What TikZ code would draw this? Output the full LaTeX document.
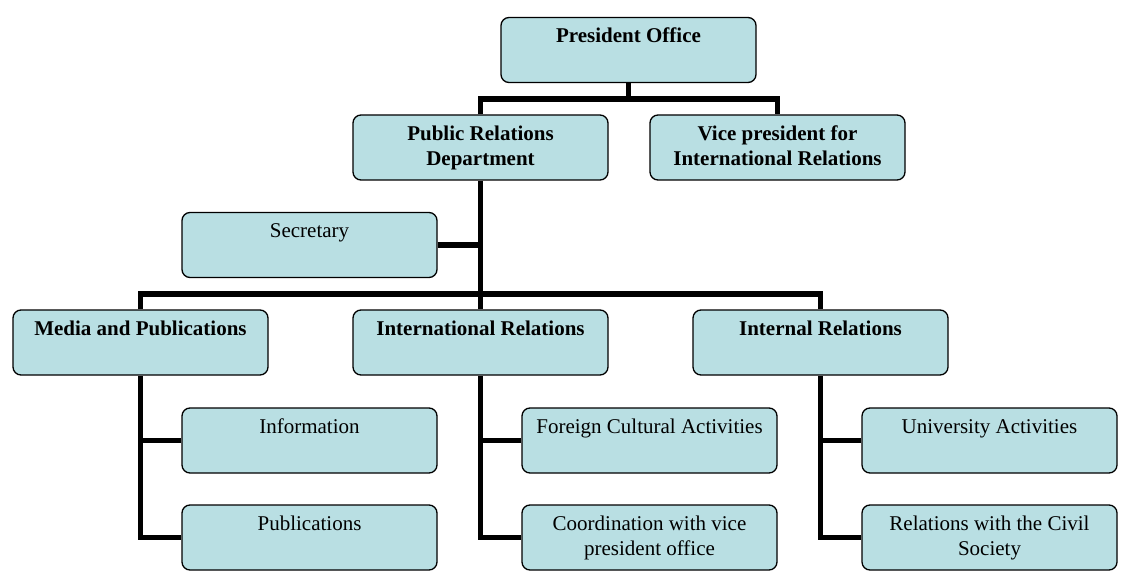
\documentclass[tikz,border=0pt]{standalone}
\usepackage{fontspec}
\setmainfont{Liberation Serif}
\definecolor{boxfill}{RGB}{185,223,227}
\tikzset{
  orgbox/.style={draw=black, line width=1.3pt, fill=boxfill, rounded corners=8pt,
    inner sep=8pt, minimum width=255pt, minimum height=65pt,
    font=\fontsize{21}{25}\selectfont},
  conn/.style={line width=5.5pt, draw=black}
}
\newcommand{\boxtext}[1]{\parbox[c][49pt][t]{239pt}{\centering\strut #1}}
\begin{document}
\begin{tikzpicture}[x=1pt,y=-1pt]
\useasboundingbox (0,0) rectangle (1121,585);
\node[orgbox] (pres) at (628.5,50) {\boxtext{\textbf{President Office}}};
\node[orgbox] (pr) at (480.5,147.5) {\boxtext{\textbf{Public Relations\\Department}}};
\node[orgbox] (vice) at (777.5,147.5) {\boxtext{\textbf{Vice president for\\International Relations}}};
\node[orgbox] (sec) at (309.5,245) {\boxtext{Secretary}};
\node[orgbox] (media) at (140.5,342.5) {\boxtext{\textbf{Media and Publications}}};
\node[orgbox] (intl) at (480.5,342.5) {\boxtext{\textbf{International Relations}}};
\node[orgbox] (internal) at (820.5,342.5) {\boxtext{\textbf{Internal Relations}}};
\node[orgbox] (info) at (309.5,440.5) {\boxtext{Information}};
\node[orgbox] (pub) at (309.5,537.5) {\boxtext{Publications}};
\node[orgbox] (foreign) at (649.5,440.5) {\boxtext{Foreign Cultural Activities}};
\node[orgbox] (coord) at (649.5,537.5) {\boxtext{Coordination with vice\\president office}};
\node[orgbox] (univ) at (989.5,440.5) {\boxtext{University Activities}};
\node[orgbox] (civil) at (989.5,537.5) {\boxtext{Relations with the Civil\\Society}};
\coordinate (j1) at (628.5,99);
\coordinate (j2) at (480.5,294);
\draw[conn] (pres.south) -- (j1);
\draw[conn] (pr.north) |- (j1) -| (vice.north);
\draw[conn] (pr.south) -- (intl.north);
\draw[conn] (media.north) |- (j2) -| (internal.north);
\draw[conn] (sec.east) -- (sec.east -| pr.south);
\draw[conn] (info.west) -| (media.south);
\draw[conn] (pub.west) -| (media.south);
\draw[conn] (foreign.west) -| (intl.south);
\draw[conn] (coord.west) -| (intl.south);
\draw[conn] (univ.west) -| (internal.south);
\draw[conn] (civil.west) -| (internal.south);
\end{tikzpicture}
\end{document}
